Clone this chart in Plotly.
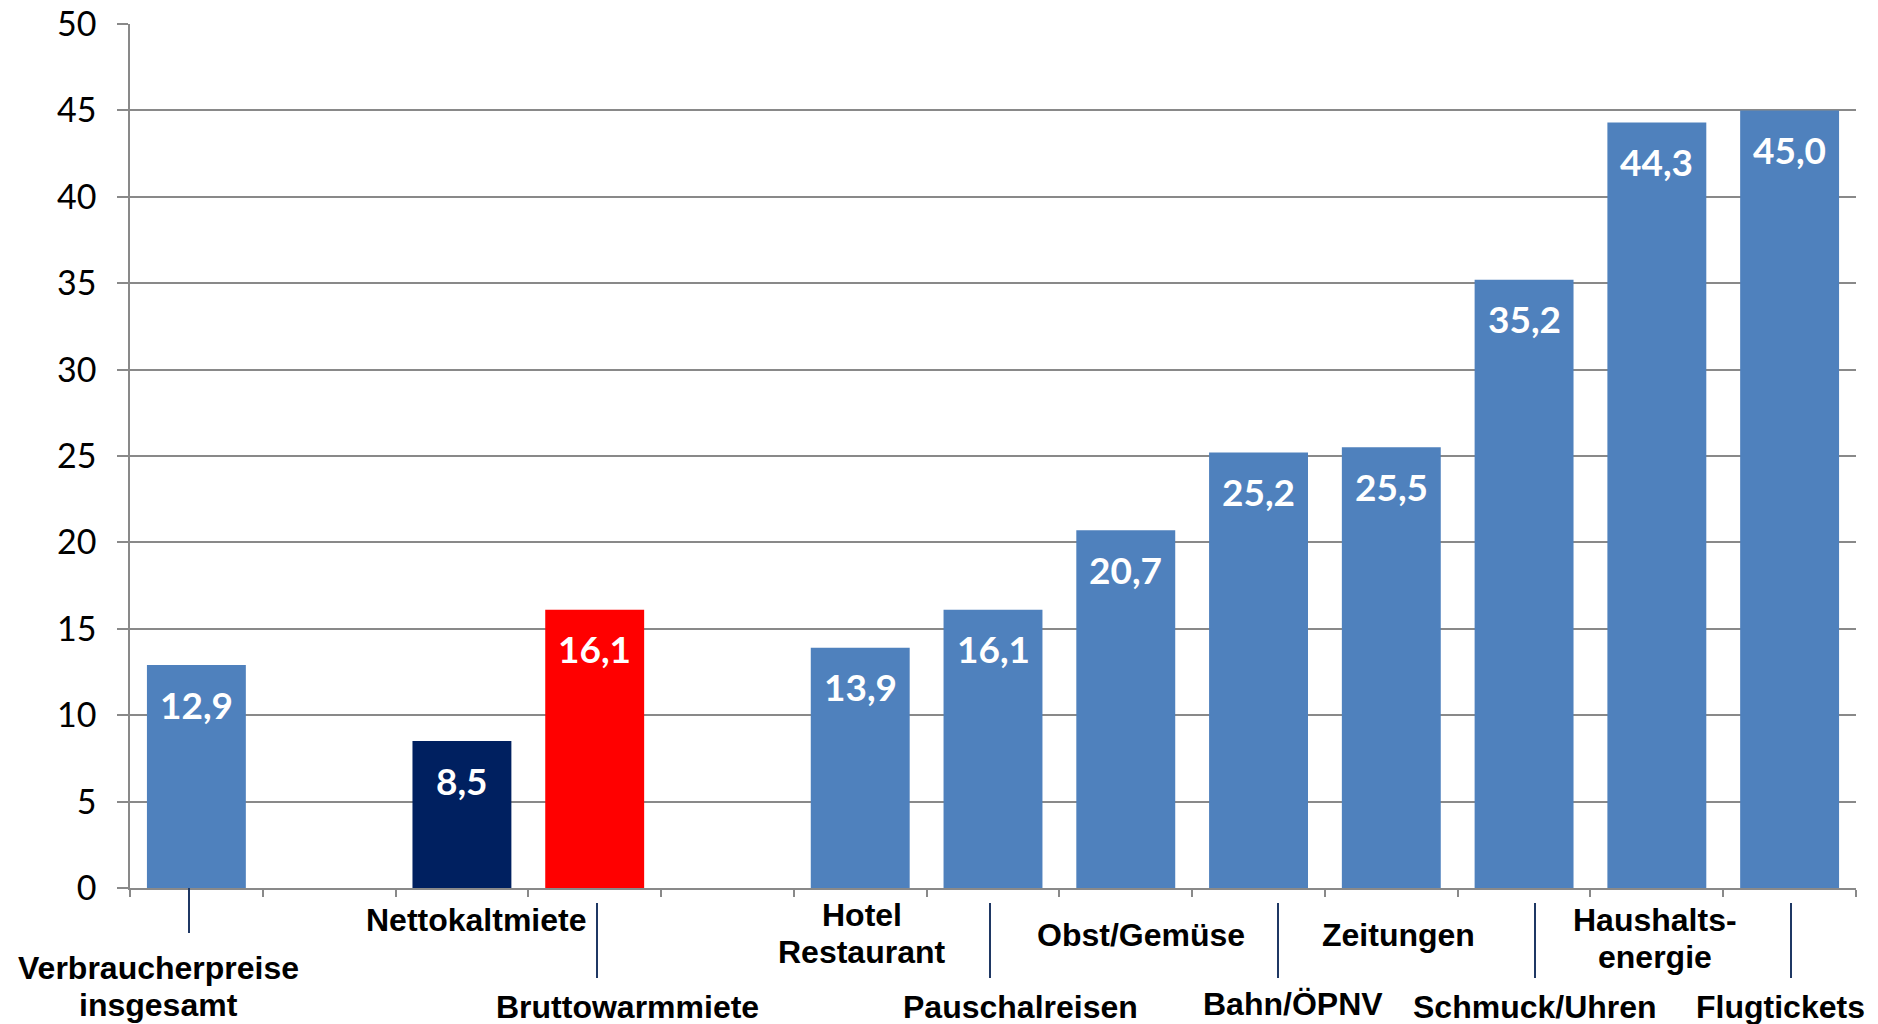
import plotly.graph_objects as go

# Daten: Preisanstieg in %
kategorien = ["Verbraucherpreise insgesamt", "leer_1", "Nettokaltmiete", "Bruttowarmmiete",
              "leer_2", "Hotel Restaurant", "Pauschalreisen", "Obst/Gemüse", "Bahn/ÖPNV",
              "Zeitungen", "Schmuck/Uhren", "Haushaltsenergie", "Flugtickets"]
werte = [12.9, None, 8.5, 16.1, None, 13.9, 16.1, 20.7, 25.2, 25.5, 35.2, 44.3, 45.0]
farben = ["#4F81BD", "#FFFFFF", "#002060", "#FF0000", "#FFFFFF", "#4F81BD", "#4F81BD",
          "#4F81BD", "#4F81BD", "#4F81BD", "#4F81BD", "#4F81BD", "#4F81BD"]

# Beschriftungen unter der Achse (Zeilen, Mitte x in px, Oberkante Großbuchstaben in px)
beschriftungen = [
    (["Verbraucherpreise", "insgesamt"], 158, 955),
    (["Nettokaltmiete"], 476, 907),
    (["Bruttowarmmiete"], 627, 994),
    (["Hotel", "Restaurant"], 862, 902),
    (["Pauschalreisen"], 1020, 994),
    (["Obst/Gemüse"], 1141, 922),
    (["Bahn/ÖPNV"], 1293, 991),
    (["Zeitungen"], 1398, 922),
    (["Schmuck/Uhren"], 1535, 994),
    (["Haushalts-", "energie"], 1655, 907),
    (["Flugtickets"], 1780, 994),
]
ZEILENABSTAND = 37
# Hinweislinien (x, y oben, y unten) in px
linien = [(189, 888, 933), (597, 903, 978), (990, 903, 978),
          (1278, 903, 978), (1535, 903, 978), (1791, 903, 978)]

W, H = 1878, 1024
L, R, T, B = 130, 22, 24, 136
pw, ph = W - L - R, H - T - B


def px_x(x):
    return (x - L) / pw


def px_y(y):
    return (H - B - y) / ph


fig = go.Figure()
fig.add_trace(go.Bar(x=kategorien, y=werte, marker_color=farben, marker_line_width=0,
                     hoverinfo="x+y"))

grau = "#898989"
fig.update_layout(
    width=W, height=H,
    margin=dict(l=L, r=R, t=T, b=B),
    plot_bgcolor="white", paper_bgcolor="white",
    bargap=0.255, showlegend=False,
    xaxis=dict(showticklabels=False, showline=True, linecolor=grau, linewidth=1.5,
               ticks="outside", tickson="boundaries", ticklen=7, tickcolor=grau,
               tickwidth=1.5, showgrid=False, automargin=False),
    yaxis=dict(range=[0, 50], dtick=5, showgrid=True, gridcolor=grau, gridwidth=1.5,
               showline=True, linecolor=grau, linewidth=1.5, ticks="outside",
               ticklen=11, tickcolor=grau, tickwidth=1.5, zeroline=False,
               ticklabelstandoff=14, automargin=False, ticklabeloverflow="allow",
               tickfont=dict(family="Lato", size=34, color="black")),
)

# Werte in den Balken
for k, v in zip(kategorien, werte):
    if v is None:
        continue
    fig.add_annotation(x=k, y=v, xref="x", yref="y", yanchor="middle", yshift=-39,
                       text=f"{v:.1f}".replace(".", ","), showarrow=False,
                       font=dict(family="Lato", size=37, color="white", weight="bold"))

# Kategorienbeschriftungen, Zeile für Zeile
for zeilen, cx, cap_top in beschriftungen:
    for i, zeile in enumerate(zeilen):
        fig.add_annotation(x=px_x(cx), y=px_y(cap_top - 6 + i * ZEILENABSTAND),
                           xref="paper", yref="paper", xanchor="center", yanchor="top",
                           text=zeile, showarrow=False, borderpad=0,
                           font=dict(family="Liberation Sans, Arial", size=32,
                                     color="black", weight="bold"))

for x, y0, y1 in linien:
    fig.add_shape(type="line", xref="paper", yref="paper",
                  x0=px_x(x), x1=px_x(x), y0=px_y(y0), y1=px_y(y1),
                  line=dict(color="#1F3864", width=2))

# Seitenrand entfernen, damit die Grafik genau das Fenster füllt
fig.write_html("out.html", config={"displayModeBar": False},
               post_script="document.body.style.margin = '0';")
